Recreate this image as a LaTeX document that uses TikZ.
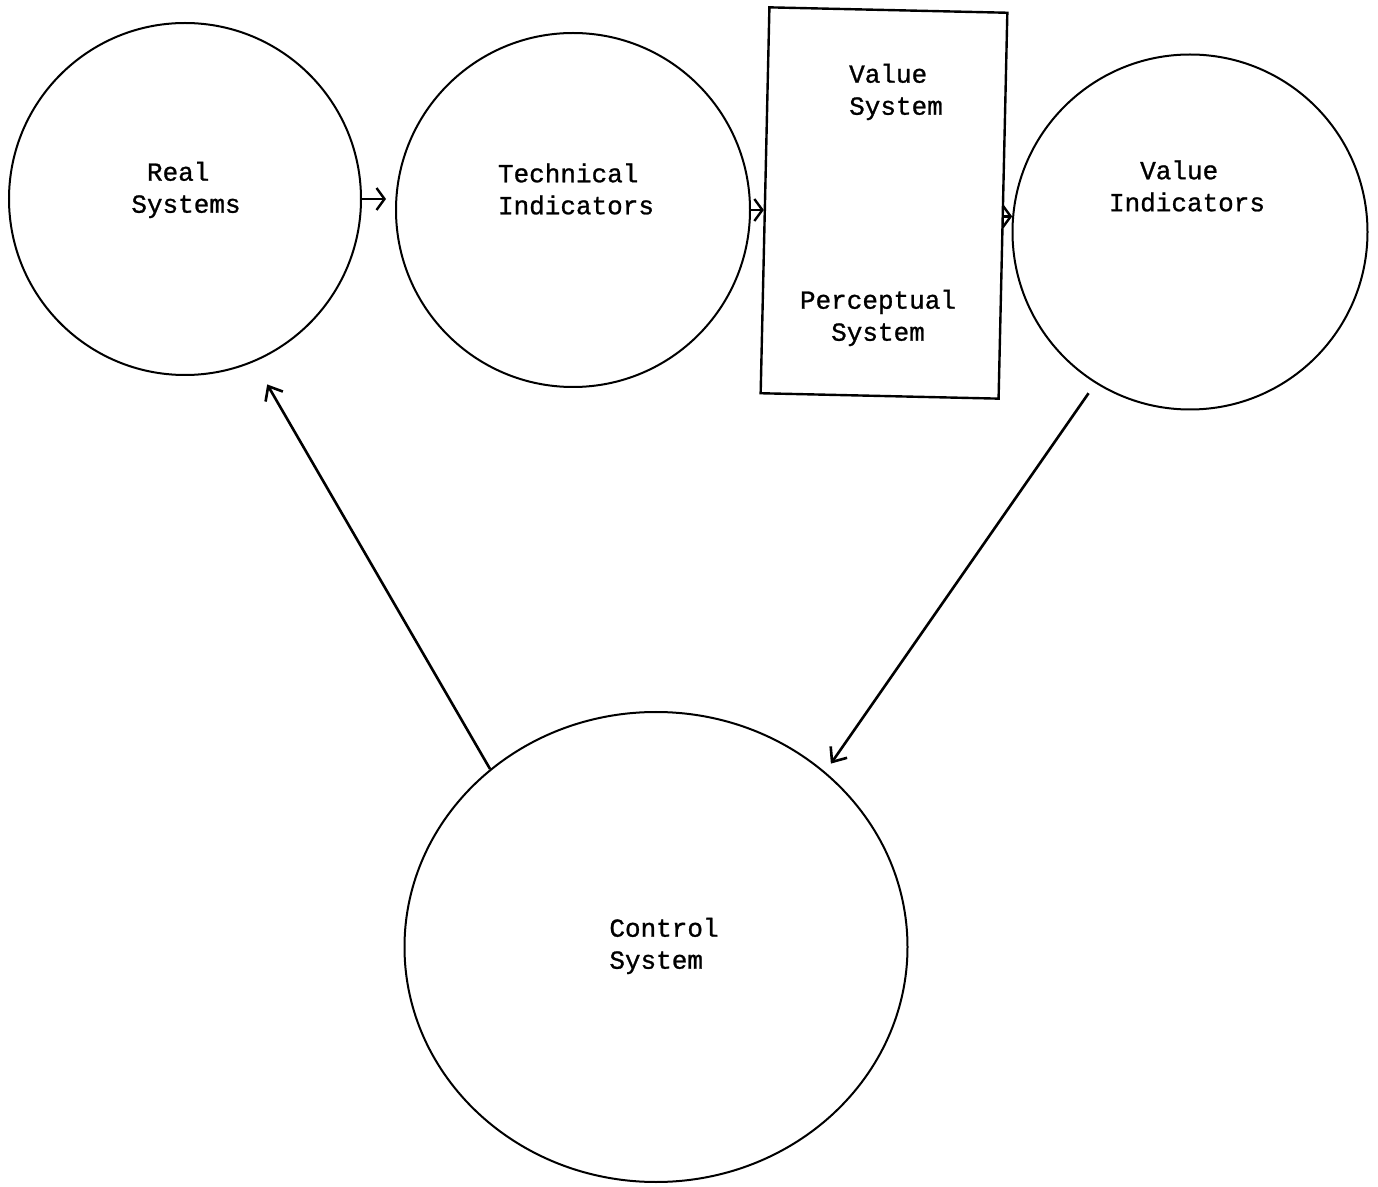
\documentclass[tikz,border=0pt]{standalone}
\usepackage{fontspec}
\setmonofont[FakeBold=1]{Liberation Mono}
\usetikzlibrary{shapes.geometric,arrows.meta}
\begin{document}
\begin{tikzpicture}[x=0.5pt,y=-0.5pt,line width=1pt]
    \tikzstyle{disc} = [circle,draw=black,inner sep=0pt]
    \tikzstyle{txt} = [font=\ttfamily\fontsize{13}{16}\selectfont,align=left,inner sep=0pt]
    \tikzstyle{link} = [-{Straight Barb[length=4pt,width=11pt]},line width=1.2pt]
    \tikzstyle{feedback} = [-{Straight Barb[length=6pt,width=10pt]},line width=1.3pt]
    \useasboundingbox (0,0) rectangle (1378,1187);
    \node (real)[disc,minimum size=176pt] at (185,199) {};
    \node (tech)[disc,minimum size=177pt] at (573,210) {};
    \node (percept)[rectangle,draw=black,line width=1.2pt,minimum width=119pt,minimum height=193pt,rotate=-1.3] at (884,203) {};
    \node (vi)[disc,minimum size=177.5pt] at (1190,232) {};
    \node (control)[ellipse,draw=black,inner sep=0pt,minimum width=251.5pt,minimum height=235pt] at (656,947) {};
    \node (realtext)[txt] at (186,190) {\phantom{S}Real\\Systems};
    \node (techtext)[txt] at (576,189) {Technical\\Indicators};
    \node (valsys)[txt] at (896,92) {Value\\System};
    \node (perctext)[txt] at (878,318) {Perceptual\\\phantom{Pe}System};
    \node (vitext)[txt] at (1187,186) {\phantom{In}Value\\Indicators};
    \node (ctrltext)[txt] at (664,946) {Control\\System};
    \draw [link,shorten >=4.5pt] (real.east) -- (real.east -| tech.west);
    \draw [link] (tech.east) -- (tech.east -| percept.west);
    \draw [link] (percept.east |- vi.175) -- (vi.175);
    \draw [feedback,shorten <=6pt,shorten >=5pt] (vi.238) -- (control.46.6);
    \draw [feedback,shorten >=13pt] (control.133.7) -- (real.-67.6);
\end{tikzpicture}
\end{document}
